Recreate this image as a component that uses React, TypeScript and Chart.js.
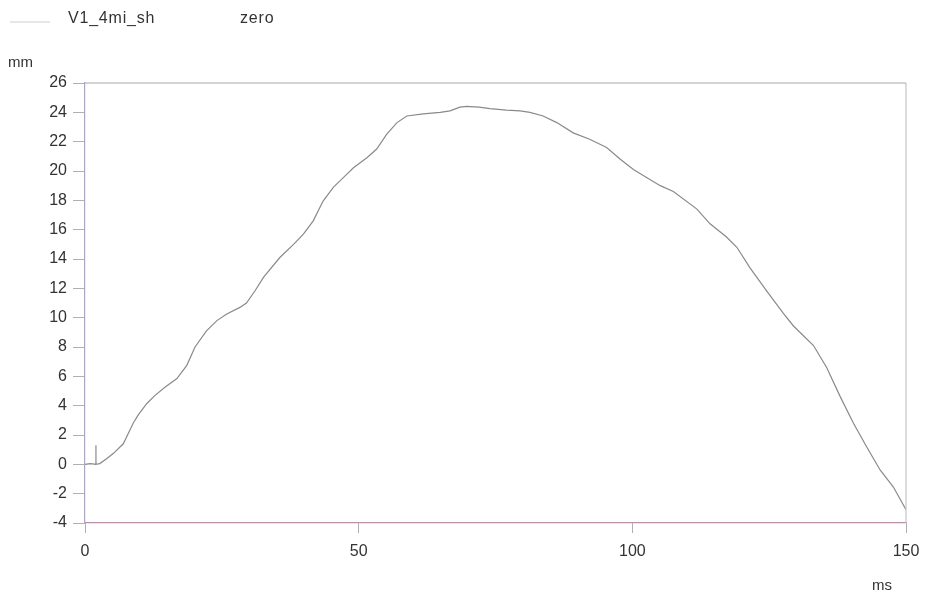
import React, { useEffect, useRef } from "react";
import { Chart, registerables } from "chart.js";

Chart.register(...registerables);

const seriesName = "V1_4mi_sh";
const zeroName = "zero";
const xUnit = "ms";
const yUnit = "mm";

const timeMs = [
  0, 1.0, 2.0, 2.0, 2.0, 2.7, 4.0, 5.2, 7.0, 8.8, 9.7, 11.3, 12.8, 14.6, 16.8, 18.6, 20.1, 22.2, 24.1, 25.9,
  28.3, 29.5, 31.1, 32.6, 35.6, 38.1, 39.9, 41.7, 43.5, 45.4, 47.2, 49.0, 51.5, 53.3, 55.1, 57.0, 58.8, 61.8,
  64.9, 66.7, 68.5, 69.7, 72.0, 74.0, 77.0, 79.5, 81.3, 83.7, 86.2, 89.2, 92.3, 95.3, 97.8, 100.2, 102.6,
  105.1, 107.5, 111.8, 114.2, 117.2, 119.1, 121.5, 124.5, 127.6, 129.4, 133.1, 135.5, 138.0, 140.4, 142.8,
  145.3, 147.7, 150,
];

const displacementMm = [
  0, 0.05, 0, 1.3, 0, 0.05, 0.4, 0.75, 1.4, 2.8, 3.35, 4.15, 4.7, 5.25, 5.85, 6.75, 8.0, 9.1, 9.8, 10.25,
  10.7, 11.0, 11.85, 12.75, 14.1, 15.0, 15.7, 16.6, 17.95, 18.9, 19.55, 20.2, 20.9, 21.5, 22.5, 23.3, 23.75, 23.9,
  24.0, 24.1, 24.35, 24.4, 24.35, 24.25, 24.15, 24.1, 24.0, 23.75, 23.3, 22.6, 22.15, 21.6, 20.8, 20.1, 19.55,
  19.0, 18.6, 17.4, 16.4, 15.5, 14.8, 13.4, 11.85, 10.3, 9.45, 8.1, 6.6, 4.6, 2.8, 1.2,
  -0.4, -1.55, -3.1,
];

const xMin = 0;
const xMax = 150;
const xStep = 50;
const yMin = -4;
const yMax = 26;
const yStep = 2;

const FONT = "'Liberation Sans', Arial, sans-serif";

const decorPlugin = {
  id: "decor",
  afterDraw(chart: any) {
    const { ctx, chartArea } = chart;
    ctx.save();
    // top and right frame lines
    ctx.strokeStyle = "#a8a8a8";
    ctx.lineWidth = 1.2;
    ctx.beginPath();
    ctx.moveTo(chartArea.left, chartArea.top);
    ctx.lineTo(chartArea.right, chartArea.top);
    ctx.stroke();
    ctx.strokeStyle = "#c4c4c4";
    ctx.beginPath();
    ctx.moveTo(chartArea.right, chartArea.top);
    ctx.lineTo(chartArea.right, chartArea.bottom);
    ctx.stroke();
    // legend
    ctx.strokeStyle = "#cfcfcf";
    ctx.lineWidth = 1;
    ctx.beginPath();
    ctx.moveTo(10, 22);
    ctx.lineTo(50, 22);
    ctx.stroke();
    ctx.fillStyle = "#333";
    ctx.font = "16px " + FONT;
    ctx.textBaseline = "alphabetic";
    ctx.textAlign = "left";
    (ctx as any).letterSpacing = "0.8px";
    ctx.fillText(seriesName, 68, 23);
    ctx.fillText(zeroName, 240, 23);
    // unit labels
    (ctx as any).letterSpacing = "0px";
    ctx.font = "15px " + FONT;
    ctx.fillText(yUnit, 8, 67);
    ctx.fillText(xUnit, 872, 590);
    ctx.restore();
  },
};

export default function App() {
  const ref = useRef<HTMLCanvasElement | null>(null);
  useEffect(() => {
    if (!ref.current) return;
    const points = timeMs.map((t, i) => ({ x: t, y: displacementMm[i] }));
    const chart = new Chart(ref.current, {
      type: "line",
      data: {
        datasets: [
          {
            label: seriesName,
            data: points,
            borderColor: "#8a8a8a",
            borderWidth: 1.2,
            pointRadius: 0,
            tension: 0,
            fill: false,
          },
        ],
      },
      options: {
        animation: false,
        responsive: true,
        maintainAspectRatio: false,
        layout: { padding: { top: 83, right: 19, left: 0, bottom: 0 } },
        plugins: { legend: { display: false }, tooltip: { enabled: false } },
        scales: {
          x: {
            type: "linear",
            min: xMin,
            max: xMax,
            afterFit: (s: any) => {
              s.height = 73;
              s.paddingLeft = 0;
              s.paddingRight = 0;
            },
            ticks: {
              stepSize: xStep,
              color: "#333",
              font: { size: 16, family: FONT },
              padding: 9,
              maxRotation: 0,
            },
            grid: {
              drawOnChartArea: false,
              drawTicks: true,
              tickLength: 10,
              color: "#b0b0b0",
            },
            border: { color: "#b890a8", width: 1.2 },
          },
          y: {
            type: "linear",
            min: yMin,
            max: yMax,
            afterFit: (s: any) => {
              s.width = 85;
              s.paddingTop = 0;
              s.paddingBottom = 0;
            },
            ticks: {
              stepSize: yStep,
              color: "#333",
              font: { size: 16, family: FONT },
              padding: 6,
            },
            grid: {
              drawOnChartArea: false,
              drawTicks: true,
              tickLength: 12,
              color: "#b0b0b0",
            },
            border: { color: "#a8a8c4", width: 1.2 },
          },
        },
      },
      plugins: [decorPlugin],
    });
    return () => chart.destroy();
  }, []);
  return (
    <div style={{ position: "fixed", left: 0, top: 0, width: 925, height: 596, background: "#fff" }}>
      <canvas ref={ref} />
    </div>
  );
}
